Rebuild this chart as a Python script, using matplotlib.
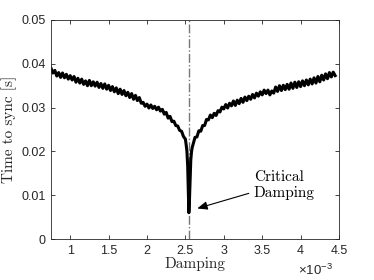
import matplotlib
matplotlib.use("Agg")
import matplotlib.pyplot as plt
import numpy as np

# Damping values (x 1e-3) and time to sync (ms)
damping_left = [0.750,0.775,0.800,0.825,0.850,0.875,0.900,0.925,0.950,0.975,
                1.000,1.025,1.050,1.075,1.100,1.125,1.150,1.175,1.200,1.225,
                1.250,1.275,1.300,1.325,1.350,1.375,1.400,1.425,1.450,1.475,
                1.500,1.525,1.550,1.575,1.600,1.625,1.650,1.675,1.700,1.725,
                1.750,1.775,1.800,1.825,1.850,1.875,1.900,1.925,1.950,1.975,
                2.000,2.025,2.050,2.075,2.100,2.125,2.150,2.175,2.200,2.225,
                2.250,2.275,2.300,2.325,2.350,2.375,2.400,2.425,2.450,2.475,
                2.500]
sync_left = [39.0,37.9,38.5,37.2,38.0,36.9,37.9,36.8,37.6,36.5,
             37.3,36.3,37.1,35.8,36.7,35.6,36.5,35.3,36.1,35.0,
             36.2,35.0,35.9,34.9,35.8,34.6,35.5,34.4,35.4,34.2,
             35.1,33.9,34.8,33.6,34.5,33.2,34.2,33.0,33.9,32.7,
             33.5,32.3,33.2,31.9,32.8,31.6,32.3,31.0,31.2,30.3,
             30.8,29.9,30.6,29.8,30.3,29.5,30.1,29.2,29.6,28.5,
             28.9,27.6,28.0,26.8,26.9,25.9,25.8,24.8,24.6,23.4,
             22.8]
damping_dip = [2.510,2.520,2.530,2.538,2.545,2.552,2.560,2.570,2.580,2.590]
sync_dip = [21.5,20.0,16.5,10.5,6.0,8.5,13.0,18.0,20.0,21.0]
damping_right = [2.600,2.625,2.650,2.675,2.700,2.725,2.750,2.775,2.800,2.825,
                 2.850,2.875,2.900,2.925,2.950,2.975,3.000,3.025,3.050,3.075,
                 3.100,3.125,3.150,3.175,3.200,3.225,3.250,3.275,3.300,3.325,
                 3.350,3.375,3.400,3.425,3.450,3.475,3.500,3.525,3.550,3.575,
                 3.600,3.625,3.650,3.675,3.700,3.725,3.750,3.775,3.800,3.825,
                 3.850,3.875,3.900,3.925,3.950,3.975,4.000,4.025,4.050,4.075,
                 4.100,4.125,4.150,4.175,4.200,4.225,4.250,4.275,4.300,4.325,
                 4.350,4.375,4.400,4.425,4.450]
sync_right = [21.6,23.2,23.3,24.7,24.6,25.9,25.9,27.3,27.2,28.3,
              27.7,28.7,28.2,29.3,29.0,30.1,29.7,30.7,29.9,31.0,
              30.4,31.5,30.5,31.7,30.9,32.1,31.2,32.4,31.6,32.6,
              31.9,33.0,32.2,33.3,32.6,33.6,32.9,34.0,33.2,34.0,
              32.9,33.8,33.3,34.7,33.7,35.0,33.9,35.1,34.1,35.3,
              34.2,35.6,34.4,35.8,34.6,35.9,34.8,36.1,35.0,36.3,
              35.2,36.5,35.4,36.8,35.6,37.1,35.9,37.4,36.3,37.7,
              36.6,38.0,37.0,38.1,37.3]

critical_damping = 2.55e-3
x_ticks = [1, 1.5, 2, 2.5, 3, 3.5, 4, 4.5]
y_ticks = [0, 0.01, 0.02, 0.03, 0.04, 0.05]

x = np.array(damping_left + damping_dip + damping_right) * 1e-3
y = np.array(sync_left + sync_dip + sync_right) * 1e-3

plt.rcParams['mathtext.fontset'] = 'custom'
plt.rcParams['mathtext.rm'] = 'Liberation Sans'
plt.rcParams['mathtext.it'] = 'Liberation Sans'

fig = plt.figure(figsize=(3.74, 2.8), dpi=100)
ax = fig.add_axes([51/374, 41/280, 288/374, 219/280])

ax.axvline(critical_damping, color='#777777', lw=1.0, ls='-.', zorder=1)
ax.plot(x, y, color='black', lw=2.2, solid_joinstyle='round', zorder=2)

ax.set_xlim(0.75e-3, 4.5e-3)
ax.set_ylim(0, 0.05)
ax.set_xticks([t * 1e-3 for t in x_ticks])
ax.set_xticklabels([f"{t:g}" for t in x_ticks])
ax.set_yticks(y_ticks)
ax.set_yticklabels([f"{t:g}" if t == 0 else f"{t:.2f}" for t in y_ticks])

tc = '#262626'
ax.tick_params(direction='in', length=3, width=0.6, top=True, right=True,
               colors=tc, labelsize=9, pad=4)
for lab in ax.get_xticklabels() + ax.get_yticklabels():
    lab.set_fontfamily('Liberation Sans')
for s in ax.spines.values():
    s.set_color(tc)
    s.set_linewidth(0.6)

ax.set_xlabel('Damping', fontfamily='cmr10', fontsize=11, color=tc, labelpad=0)
ax.set_ylabel('Time to sync [s]', fontfamily='cmr10', fontsize=11, color=tc, labelpad=3)

ax.text(0.978, -0.11, r'$\times10^{-3}$', transform=ax.transAxes, ha='right',
        va='top', fontsize=9.5, color=tc)

ax.text(3.39e-3, 0.0123, 'Critical\nDamping', fontfamily='cmr10', fontsize=11,
        ha='left', va='center', linespacing=1.1, color='black')
ax.annotate('', xy=(2.62e-3, 0.0068), xytext=(3.36e-3, 0.0106),
            arrowprops=dict(arrowstyle='-|>,head_length=0.6,head_width=0.25',
                            color='black', lw=0.8))

fig.savefig('out.png', dpi=100)
